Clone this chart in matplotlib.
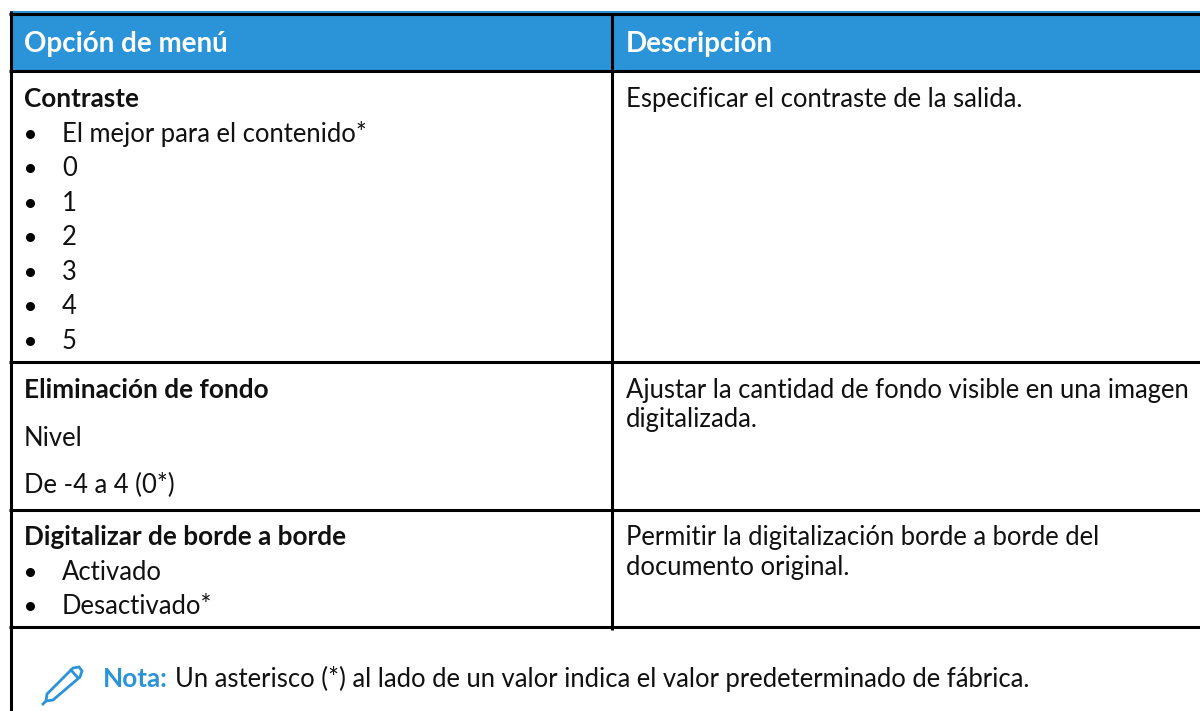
import matplotlib
matplotlib.use("Agg")
import matplotlib.pyplot as plt
from matplotlib.path import Path
from matplotlib.patches import PathPatch, Rectangle

plt.rcParams['font.family'] = ['Lato', 'DejaVu Sans']

BLUE = "#2b93d7"
INK = "#111111"
FS = 18.45
FS_BOLD = 18.8
FS_HEAD = 20

headers = ["Opción de menú", "Descripción"]
contraste_items = ["El mejor para el contenido*", "0", "1", "2", "3", "4", "5"]
contraste_base = [142, 176, 211, 245, 280, 314, 349]
borde_items = ["Activado", "Desactivado*"]
borde_base = [580, 614]
row_lines = [362, 510, 627]
nota = "Un asterisco (*) al lado de un valor indica el valor predeterminado de fábrica."

fig = plt.figure(figsize=(12, 7.11), dpi=100)
ax = fig.add_axes([0, 0, 1, 1])
ax.set_xlim(0, 1200)
ax.set_ylim(711, 0)
ax.axis("off")

# en-tete
ax.add_patch(Rectangle((10, 11), 1190, 60, fc=BLUE, ec="none"))
ax.text(24, 52, headers[0], color="white", fontsize=FS_HEAD, fontweight="bold")
ax.text(626, 52, headers[1], color="white", fontsize=FS_HEAD, fontweight="bold")

# lignes du tableau
for y in [13.5, 71] + row_lines:
    ax.plot([9, 1200], [y, y], color="black", lw=2.2, solid_capstyle="butt")
ax.plot([10.5, 10.5], [11, 711], color="black", lw=2.2, solid_capstyle="butt")
ax.plot([611.5, 611.5], [13, 630], color="black", lw=2.2, solid_capstyle="butt")


def cell(x, y, s, bold=False):
    ax.text(x, y, s, color=INK, fontsize=FS_BOLD if bold else FS,
            fontweight="bold" if bold else "normal")


def bullet(y, s):
    ax.plot([30], [y - 8], marker="o", ms=6.5, color="black", mec="none")
    cell(62, y, s)


cell(24, 107, "Contraste", bold=True)
for y, s in zip(contraste_base, contraste_items):
    bullet(y, s)

cell(24, 398, "Eliminación de fondo", bold=True)
cell(24, 446, "Nivel")
cell(24, 493, "De -4 a 4 (0*)")

cell(24, 545, "Digitalizar de borde a borde", bold=True)
for y, s in zip(borde_base, borde_items):
    bullet(y, s)

cell(626, 107, "Especificar el contraste de la salida.")
cell(626, 398, "Ajustar la cantidad de fondo visible en una imagen")
cell(626, 427, "digitalizada.")
cell(626, 545, "Permitir la digitalización borde a borde del")
cell(626, 575, "documento original.")

# nota
ax.text(103, 687, "Nota:", color=BLUE, fontsize=FS_BOLD, fontweight="bold")
ax.text(175, 687, nota, color=INK, fontsize=FS)

# crayon
pencil = Path([(47, 694), (73, 668), (79, 667), (82, 671), (80, 677), (53, 700), (46, 701), (47, 694)],
              [Path.MOVETO] + [Path.LINETO] * 6 + [Path.CLOSEPOLY])
ax.add_patch(PathPatch(pencil, fc="none", ec=BLUE, lw=2))
ax.plot([71, 78], [670, 678], color=BLUE, lw=2)
ax.plot([43, 45], [704, 702], color=BLUE, lw=2)

fig.savefig("out.png", dpi=100)
